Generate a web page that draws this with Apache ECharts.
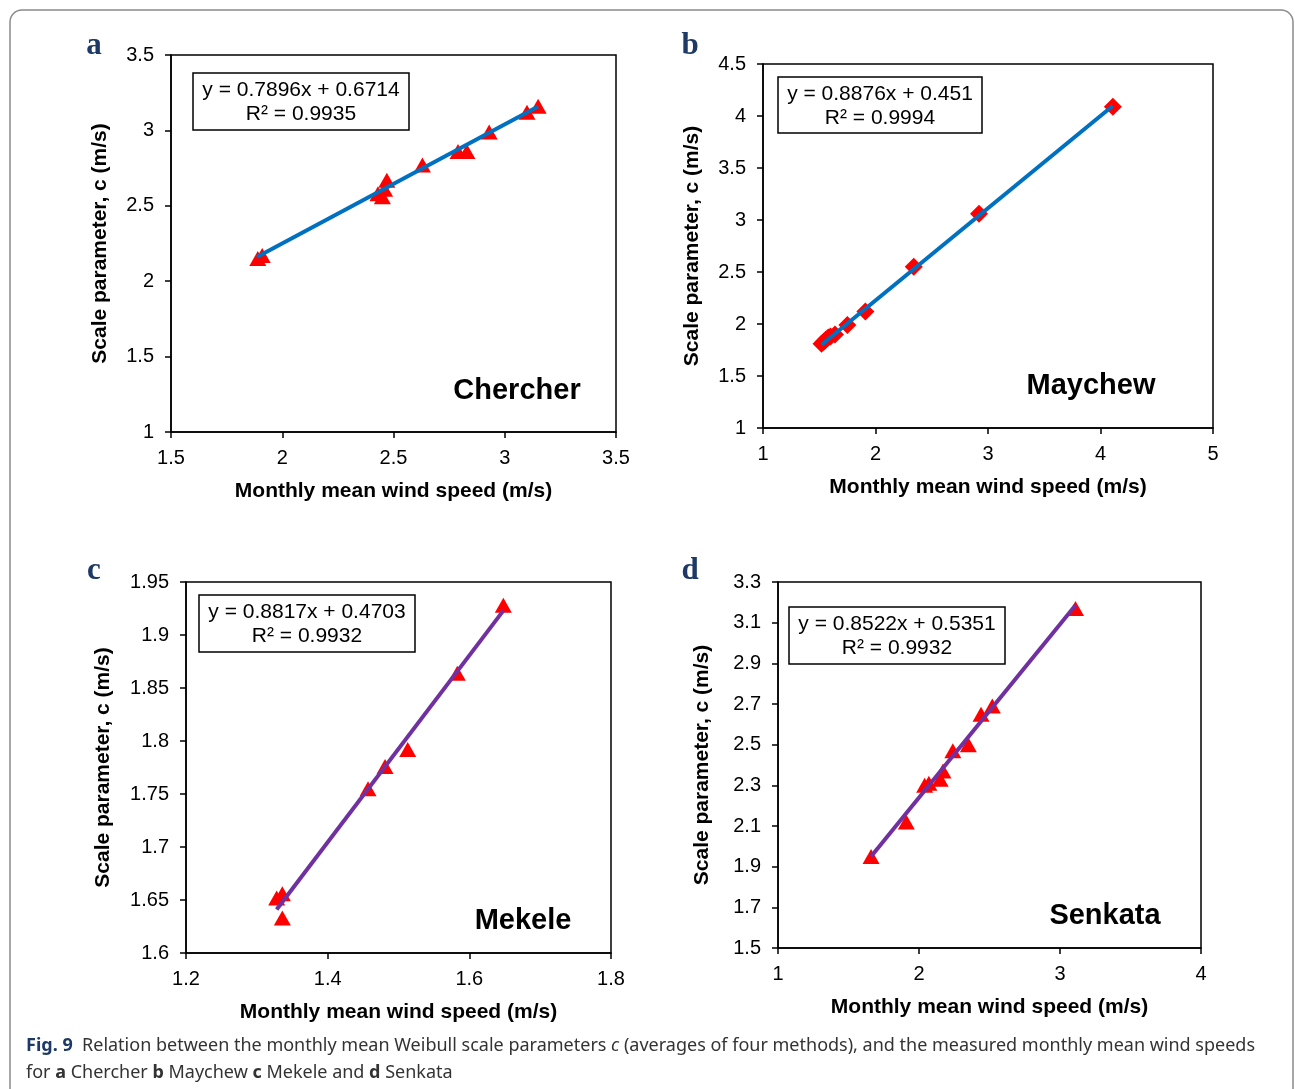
<!DOCTYPE html>
<html lang="en">
<head>
    <meta charset="UTF-8"/>
    <title>Weibull scale parameter vs wind speed</title>
    <script src="https://cdn.jsdelivr.net/npm/echarts@6/dist/echarts.min.js"></script>
    <style>
        html, body { margin: 0; padding: 0; background: #fff; }
    </style>
</head>
<body>
<div id="main" style="width: 1295px; height: 1089px;"></div>
<script type="text/javascript">
    // ---- data ----
    var stations = ['Chercher', 'Maychew', 'Mekele', 'Senkata'];
    var equations = ['y = 0.7896x + 0.6714', 'y = 0.8876x + 0.451', 'y = 0.8817x + 0.4703', 'y = 0.8522x + 0.5351'];
    var rSquared = ['R² = 0.9935', 'R² = 0.9994', 'R² = 0.9932', 'R² = 0.9932'];

    // a Chercher
    var speedA = [1.89, 1.91, 2.43, 2.45, 2.47, 2.46, 2.63, 2.79, 2.83, 2.93, 3.10, 3.15];
    var scaleA = [2.15, 2.17, 2.58, 2.56, 2.67, 2.61, 2.77, 2.86, 2.86, 2.99, 3.12, 3.16];
    var trendA = [[1.886, 2.160], [3.15, 3.159]];
    // b Maychew
    var speedB = [1.52, 1.54, 1.56, 1.58, 1.60, 1.64, 1.75, 1.91, 2.34, 2.92, 4.11];
    var scaleB = [1.81, 1.83, 1.85, 1.87, 1.88, 1.90, 1.99, 2.12, 2.55, 3.06, 4.09];
    var trendB = [[1.52, 1.800], [4.11, 4.099]];
    // c Mekele
    var speedC = [1.328, 1.336, 1.336, 1.457, 1.481, 1.513, 1.583, 1.648];
    var scaleC = [1.652, 1.656, 1.633, 1.755, 1.776, 1.792, 1.864, 1.928];
    var trendC = [[1.328, 1.641], [1.648, 1.923]];
    // d Senkata
    var speedD = [1.66, 1.91, 2.04, 2.07, 2.15, 2.17, 2.24, 2.35, 2.44, 2.52, 3.11];
    var scaleD = [1.95, 2.12, 2.30, 2.31, 2.33, 2.37, 2.47, 2.50, 2.65, 2.69, 3.17];
    var trendD = [[1.66, 1.950], [3.11, 3.186]];

    // axis ranges [min, max, interval]
    var xRanges = [[1.5, 3.5, 0.5], [1, 5, 1], [1.2, 1.8, 0.2], [1, 4, 1]];
    var yRanges = [[1, 3.5, 0.5], [1, 4.5, 0.5], [1.6, 1.95, 0.05], [1.5, 3.3, 0.2]];

    function pairs(xs, ys) {
        return xs.map(function (x, i) { return [x, ys[i]]; });
    }

    var myChart = echarts.init(document.getElementById('main'));

    var font = '"Liberation Sans", Arial, sans-serif';
    var grids = [
        {left: 171, top: 55, width: 445, height: 377},
        {left: 763, top: 64, width: 450, height: 364},
        {left: 186, top: 582, width: 425, height: 371},
        {left: 778, top: 582, width: 423, height: 366}
    ];
    var yNameGaps = [60, 60, 72, 65];
    var lineColors = ['#0070C0', '#0070C0', '#7030A0', '#7030A0'];
    var symbols = ['triangle', 'diamond', 'triangle', 'triangle'];
    var symbolSizes = [[17, 15], [18, 18], [17, 15], [17, 15]];
    var points = [pairs(speedA, scaleA), pairs(speedB, scaleB), pairs(speedC, scaleC), pairs(speedD, scaleD)];
    var trends = [trendA, trendB, trendC, trendD];

    function tickText(v) {
        return String(Math.round(v * 100) / 100);
    }

    var xAxes = [], yAxes = [], series = [];
    for (var i = 0; i < 4; i++) {
        grids[i].show = true;
        grids[i].borderColor = '#000';
        grids[i].borderWidth = 1.5;
        xAxes.push({
            type: 'value', gridIndex: i,
            min: xRanges[i][0], max: xRanges[i][1], interval: xRanges[i][2],
            name: 'Monthly mean wind speed (m/s)', nameLocation: 'middle', nameGap: 49,
            nameTextStyle: {fontFamily: font, fontSize: 21, fontWeight: 'bold', color: '#000'},
            axisLine: {lineStyle: {color: '#000', width: 1.5}},
            axisTick: {show: true, inside: false, length: 6, lineStyle: {color: '#000', width: 1.5}},
            axisLabel: {fontFamily: font, fontSize: 20, color: '#000', margin: 16, formatter: tickText},
            splitLine: {show: false}
        });
        yAxes.push({
            type: 'value', gridIndex: i,
            min: yRanges[i][0], max: yRanges[i][1], interval: yRanges[i][2],
            name: 'Scale parameter, c (m/s)', nameLocation: 'middle', nameGap: yNameGaps[i],
            nameTextStyle: {fontFamily: font, fontSize: 21, fontWeight: 'bold', color: '#000'},
            axisLine: {lineStyle: {color: '#000', width: 1.5}},
            axisTick: {show: true, inside: false, length: 6, lineStyle: {color: '#000', width: 1.5}},
            axisLabel: {fontFamily: font, fontSize: 20, color: '#000', margin: 17, formatter: tickText},
            splitLine: {show: false}
        });
        series.push({
            type: 'scatter', xAxisIndex: i, yAxisIndex: i,
            symbol: symbols[i], symbolSize: symbolSizes[i],
            itemStyle: {color: '#FF0000', opacity: 1},
            data: points[i], z: 2
        });
        series.push({
            type: 'line', xAxisIndex: i, yAxisIndex: i,
            showSymbol: false, symbol: 'none',
            lineStyle: {color: lineColors[i], width: 4},
            data: trends[i], z: 3
        });
    }

    // equation boxes, station names, panel letters
    var boxes = [
        {x: 193, y: 73, w: 216, h: 57},
        {x: 778, y: 77, w: 204, h: 56},
        {x: 199, y: 595, w: 216, h: 57},
        {x: 789, y: 607, w: 216, h: 57}
    ];
    var nameSpots = [[517, 390], [1091, 385], [523, 920], [1105, 915]];
    var letters = [['a', 94, 46], ['b', 690, 46], ['c', 94, 571], ['d', 690, 571]];

    var graphics = [{
        type: 'rect', shape: {x: 10, y: 10, width: 1283, height: 1090, r: 12},
        style: {fill: null, stroke: '#8a8a8a', lineWidth: 1.5}, z: 0
    }];
    for (var j = 0; j < 4; j++) {
        var b = boxes[j];
        graphics.push({
            type: 'rect', shape: {x: b.x, y: b.y, width: b.w, height: b.h},
            style: {fill: '#fff', stroke: '#000', lineWidth: 1.5}, z: 10
        });
        graphics.push({
            type: 'text', x: b.x + b.w / 2, y: b.y + b.h / 2 + 1, z: 11,
            style: {
                text: equations[j] + '\n' + rSquared[j], align: 'center', verticalAlign: 'middle',
                font: '21px ' + font, fill: '#000', lineHeight: 24
            }
        });
        graphics.push({
            type: 'text', x: nameSpots[j][0], y: nameSpots[j][1] + 1, z: 11,
            style: {
                text: stations[j], align: 'center', verticalAlign: 'middle',
                font: 'bold 29px ' + font, fill: '#000'
            }
        });
        graphics.push({
            type: 'text', x: letters[j][1], y: letters[j][2], z: 11,
            style: {
                text: letters[j][0], align: 'center', verticalAlign: 'middle',
                font: 'bold 31px "Liberation Serif", "DejaVu Serif", serif', fill: '#1d3a66'
            }
        });
    }

    // caption
    var capFont = '"Noto Sans", sans-serif';
    graphics.push({
        type: 'text', x: 26, y: 1046, z: 11,
        style: {
            rich: {
                b: {fontFamily: capFont, fontSize: 18, fontWeight: 'bold', fill: '#1d3a66'},
                n: {fontFamily: capFont, fontSize: 18, fill: '#333'},
                i: {fontFamily: capFont, fontSize: 18, fontStyle: 'italic', fill: '#333'}
            },
            text: '{b|Fig. 9}{n|  Relation between the monthly mean Weibull scale parameters }{i|c}{n| (averages of four methods), and the measured monthly mean wind speeds}',
            verticalAlign: 'middle'
        }
    });
    graphics.push({
        type: 'text', x: 26, y: 1073, z: 11,
        style: {
            rich: {
                n: {fontFamily: capFont, fontSize: 18, fill: '#333'},
                k: {fontFamily: capFont, fontSize: 18, fontWeight: 'bold', fill: '#333'}
            },
            text: '{n|for }{k|a}{n| Chercher }{k|b}{n| Maychew }{k|c}{n| Mekele and }{k|d}{n| Senkata}',
            verticalAlign: 'middle'
        }
    });

    option = {
        backgroundColor: '#fff',
        animation: false,
        grid: grids,
        xAxis: xAxes,
        yAxis: yAxes,
        series: series,
        graphic: graphics
    };

    myChart.setOption(option);
</script>
</body>
</html>
